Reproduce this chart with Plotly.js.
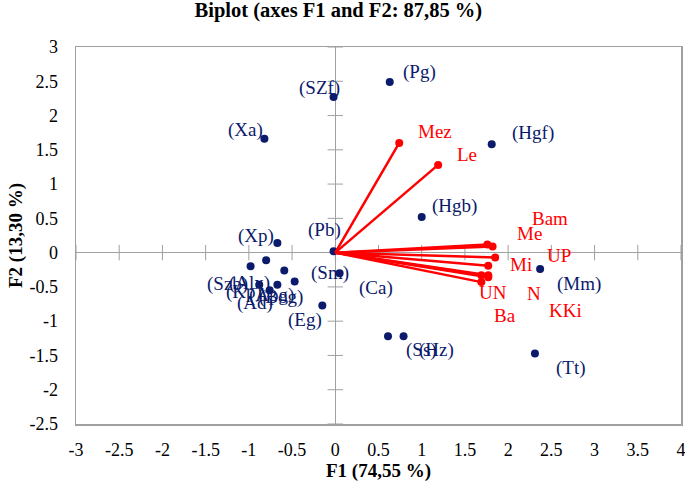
<!DOCTYPE html>
<html>
<head>
<meta charset="utf-8">
<script src="https://cdn.plot.ly/plotly-3.0.1.min.js"></script>
<style>html,body{margin:0;padding:0;background:#fff;}#chart{width:685px;height:490px;}</style>
</head>
<body>
<div id="chart"></div>
<script>
// Observations (F1, F2)
const obsNames = ["(Pg)","(SZf)","(Xa)","(Hgf)","(Hgb)","(Mm)","(Tt)","(Ss)","(Hz)","(Ca)","(Sm)","(Eg)","(Xp)","(Pb)","(Szb)","(Alx)","(Kp)","(Apg)","(Bog)","(Ad)"];
const obsF1 = [0.63,-0.02,-0.82,1.81,1.00,2.37,2.31,0.61,0.79,0.05,-0.47,-0.15,-0.67,-0.02,-0.98,-0.80,-0.88,-0.59,-0.67,-0.76];
const obsF2 = [2.49,2.27,1.66,1.58,0.52,-0.24,-1.47,-1.22,-1.22,-0.30,-0.42,-0.77,0.14,0.02,-0.20,-0.11,-0.47,-0.26,-0.47,-0.55];
// label offsets in pixels (style)
const obsDx = [30,-14,-19,41,33,39,36,33,33,36,35,-17,-21,-9,-23,-17,-15,-13,4,-15];
const obsDy = [10,9,9,11,11,-15,-15,-14,-14,-15,8,-15,7,21,-18,-23,-7,-25,-12,-13];

// Variables (loadings)
const varNames = ["Mez","Le","Bam","Me","UP","Mi","UN","N","KKi","Ba"];
const varF1 = [0.74,1.19,1.82,1.76,1.85,1.77,1.69,1.77,1.77,1.69];
const varF2 = [1.60,1.28,0.09,0.12,-0.07,-0.19,-0.33,-0.36,-0.33,-0.43];
const varDx = [36,29,57,42,64,33,12,46,77,24];
const varDy = [11,10,28,11,2,1,-17,-16,-35,-33];

// Ticks
const xTicks = [-3,-2.5,-2,-1.5,-1,-0.5,0,0.5,1,1.5,2,2.5,3,3.5,4];
const yTicks = [-2.5,-2,-1.5,-1,-0.5,0,0.5,1,1.5,2,2.5,3];

const serif = "Liberation Serif";
const navy = "#0b1a6b";
const red = "#ff0000";
const axisGray = "#a0a0a0";

const vx = [], vy = [];
varF1.forEach((v,i)=>{ vx.push(0, v, null); vy.push(0, varF2[i], null); });

const traces = [
  {x: xTicks, y: xTicks.map(()=>0), mode:"markers", hoverinfo:"skip",
   marker:{symbol:"line-ns-open", size:11, color:axisGray, line:{color:axisGray, width:1}}},
  {x: yTicks.map(()=>0), y: yTicks, mode:"markers", hoverinfo:"skip",
   marker:{symbol:"line-ew-open", size:11, color:axisGray, line:{color:axisGray, width:1}}},
  {x: obsF1, y: obsF2, mode:"markers", marker:{color:navy, size:8}},
  {x: vx, y: vy, mode:"lines", line:{color:red, width:2.5}},
  {x: varF1, y: varF2, mode:"markers", marker:{color:red, size:8}}
];

const ann = [];
obsNames.forEach((n,i)=>ann.push({x:obsF1[i], y:obsF2[i], text:n, showarrow:false,
  xshift:obsDx[i], yshift:obsDy[i], font:{family:serif, size:19, color:navy}}));
varNames.forEach((n,i)=>ann.push({x:varF1[i], y:varF2[i], text:n, showarrow:false,
  xshift:varDx[i], yshift:varDy[i], font:{family:serif, size:19, color:red}}));

const layout = {
  width:685, height:490,
  margin:{l:76, r:4, t:47, b:66},
  paper_bgcolor:"#fff", plot_bgcolor:"#fff",
  showlegend:false,
  title:{text:"<b>Biplot (axes F1 and F2: 87,85 %)</b>", x:0.494, xanchor:"center", y:0.995, yanchor:"top",
    font:{family:serif, size:20.5, color:"#000"}},
  xaxis:{range:[-3,4], tickvals:xTicks, ticktext:xTicks.map(String), showgrid:false,
    zeroline:true, zerolinecolor:axisGray, zerolinewidth:1,
    showline:true, mirror:true, linecolor:axisGray, linewidth:1.5, ticks:"",
    ticklabeloverflow:"allow", automargin:false, ticklabelstandoff:9,
    tickfont:{family:serif, size:18, color:"#000"},
    title:{text:"<b>F1 (74,55 %)</b>", font:{family:serif, size:19, color:"#000"}, standoff:4}},
  yaxis:{range:[-2.5,3], tickvals:yTicks, ticktext:yTicks.map(String), showgrid:false,
    zeroline:true, zerolinecolor:axisGray, zerolinewidth:1,
    showline:true, mirror:true, linecolor:axisGray, linewidth:1.5, ticks:"",
    automargin:false, ticklabelstandoff:13,
    tickfont:{family:serif, size:18, color:"#000"},
    title:{text:"<b>F2 (13,30 %)</b>", font:{family:serif, size:19, color:"#000"}, standoff:2}},
  annotations: ann
};
Plotly.newPlot("chart", traces, layout, {staticPlot:true, displayModeBar:false});
</script>
</body>
</html>
